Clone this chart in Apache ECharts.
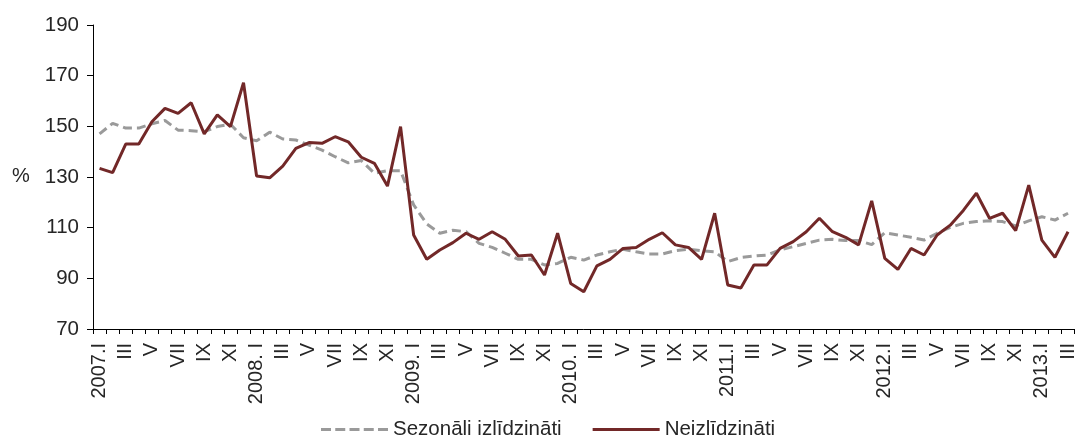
<!DOCTYPE html>
<html>
<head>
<meta charset="utf-8">
<script src="https://cdn.jsdelivr.net/npm/echarts@6/dist/echarts.min.js"></script>
<style>
  html, body { margin: 0; padding: 0; background: #fff; }
  #chart { width: 1078px; height: 435px; }
</style>
</head>
<body>
<div id="chart"></div>
<script>
// Monthly index, 2007.I – 2013.III (%)
const years = [2007, 2008, 2009, 2010, 2011, 2012, 2013];
const romanMonths = ['I', 'II', 'III', 'IV', 'V', 'VI', 'VII', 'VIII', 'IX', 'X', 'XI', 'XII'];
const janLabels = ['2007.I', '2008. I', '2009. I', '2010. I', '2011.I', '2012.I', '2013.I'];
const monthsInLastYear = 3;

const seasonallyAdjusted = [
  147.0, 151.2, 149.3, 149.3, 151.0, 152.3, 148.5, 148.3, 147.9, 149.9, 150.8, 145.5,
  144.3, 147.7, 145.0, 144.6, 142.6, 140.6, 138.0, 135.6, 136.5, 131.5, 132.5, 132.5,
  119.0, 111.5, 107.8, 109.0, 108.4, 103.8, 102.2, 99.9, 97.5, 97.5, 95.3, 95.9,
  98.3, 97.2, 99.2, 100.5, 101.5, 100.5, 99.6, 99.6, 100.9, 101.5, 100.9, 100.5,
  96.6, 98.2, 98.8, 99.2, 101.2, 102.5, 103.8, 105.1, 105.4, 104.9, 104.9, 103.3,
  108.0, 107.1, 106.2, 105.1, 107.8, 110.1, 111.7, 112.4, 112.7, 112.4, 110.7, 112.7,
  114.3, 113.0, 115.7
];

const unadjusted = [
  133.4, 131.7, 143.0, 143.0, 151.8, 157.1, 155.1, 159.3, 147.0, 154.5, 149.9, 167.2,
  130.4, 129.7, 134.3, 141.3, 143.6, 143.3, 145.9, 143.9, 137.8, 135.4, 126.4, 149.9,
  107.1, 97.5, 101.2, 104.1, 107.8, 105.4, 108.4, 105.4, 98.8, 99.2, 91.3, 107.8,
  88.0, 84.7, 94.9, 97.5, 101.8, 102.2, 105.4, 108.0, 103.2, 102.2, 97.5, 115.7,
  87.4, 86.2, 95.3, 95.3, 101.8, 104.5, 108.4, 113.7, 108.4, 106.2, 103.2, 120.6,
  97.9, 93.5, 101.8, 99.2, 107.1, 111.0, 116.8, 123.6, 113.7, 115.7, 108.8, 126.8,
  105.1, 98.3, 108.4
];

const yTicks = { min: 70, max: 190, step: 20 };

// Category labels: January carries the year, other months only the numeral
const categories = [];
years.forEach((y, yi) => {
  const n = (yi === years.length - 1) ? monthsInLastYear : 12;
  for (let m = 0; m < n; m++) {
    categories.push(m === 0 ? janLabels[yi] : romanMonths[m]);
  }
});

const FONT = '"Liberation Sans", Arial, sans-serif';
const TEXT = '#262626';
const GRAY = '#9a9a9a';
const MAROON = '#722828';

// Legend keys: a plain solid bar and a five-dash bar
const solidKey = 'path://M0,0h67v3h-67z';
const dashedKey = 'path://M0,0h10v3h-10z M14.25,0h10v3h-10z M28.5,0h10v3h-10z M42.75,0h10v3h-10z M57,0h10v3h-10z';

const chart = echarts.init(document.getElementById('chart'), null, { renderer: 'canvas' });
chart.setOption({
  animation: false,
  backgroundColor: '#fff',
  textStyle: { fontFamily: FONT },
  grid: { left: 93, top: 25, width: 986, bottom: 106, containLabel: false },
  legend: {
    left: 316,
    top: 414,
    itemWidth: 67,
    itemHeight: 3,
    itemGap: 31,
    symbolKeepAspect: false,
    itemStyle: { borderWidth: 0 },
    textStyle: { fontFamily: FONT, fontSize: 20.5, color: TEXT },
    data: [
      { name: 'Sezonāli izlīdzināti', icon: dashedKey },
      { name: 'Neizlīdzināti', icon: solidKey }
    ]
  },
  graphic: [{
    type: 'text',
    left: 12,
    top: 166,
    style: { text: '%', font: '20px ' + FONT, fill: TEXT }
  }],
  xAxis: {
    type: 'category',
    data: categories,
    boundaryGap: true,
    axisLine: { lineStyle: { color: '#000', width: 1 } },
    axisTick: { show: true, interval: 0, length: 5, lineStyle: { color: '#000' } },
    axisLabel: {
      interval: 1,
      rotate: 90,
      margin: 14,
      fontFamily: FONT,
      fontSize: 20,
      color: TEXT
    },
    splitLine: { show: false }
  },
  yAxis: {
    type: 'value',
    min: yTicks.min,
    max: yTicks.max,
    interval: yTicks.step,
    axisLine: { show: true, lineStyle: { color: '#000', width: 1 } },
    axisTick: { show: true, length: 6, lineStyle: { color: '#000' } },
    axisLabel: { margin: 14, fontFamily: FONT, fontSize: 20.5, color: TEXT },
    splitLine: { show: false }
  },
  series: [
    {
      name: 'Sezonāli izlīdzināti',
      type: 'line',
      data: seasonallyAdjusted,
      symbol: 'none',
      z: 2,
      lineStyle: { color: GRAY, width: 3, type: [9, 5] },
      itemStyle: { color: GRAY }
    },
    {
      name: 'Neizlīdzināti',
      type: 'line',
      data: unadjusted,
      symbol: 'none',
      z: 3,
      lineStyle: { color: MAROON, width: 3 },
      itemStyle: { color: MAROON }
    }
  ]
});
</script>
</body>
</html>
